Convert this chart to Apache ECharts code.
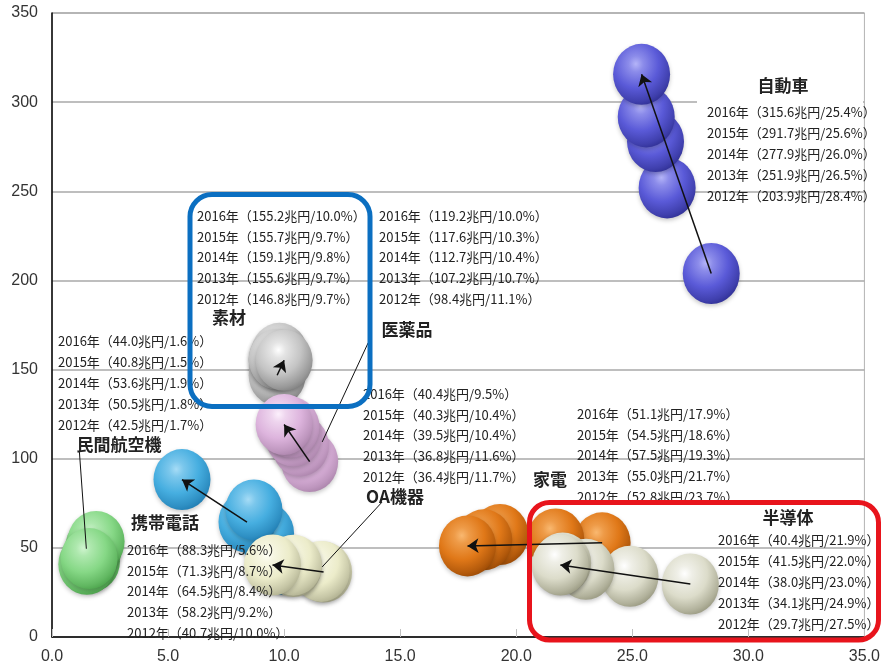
<!DOCTYPE html>
<html><head><meta charset="utf-8">
<script src="https://cdn.jsdelivr.net/npm/echarts@6/dist/echarts.min.js"></script>
<style>html,body{margin:0;padding:0;background:#fff}#c{width:883px;height:669px}</style>
</head><body><div id="c"></div>
<script>
// ---- data (x = share %, y = market size 兆円), years 2012..2016 ----
const years = [2012, 2013, 2014, 2015, 2016];
const industries = ['自動車', '素材', '医薬品', '携帯電話', '民間航空機', 'OA機器', '家電', '半導体'];
const share_auto   = [28.4, 26.5, 26.0, 25.6, 25.4];
const size_auto    = [203.9, 251.9, 277.9, 291.7, 315.6];
const share_mat    = [9.7, 9.7, 9.8, 9.7, 10.0];
const size_mat     = [146.8, 155.6, 159.1, 155.7, 155.2];
const share_pharma = [11.1, 10.7, 10.4, 10.3, 10.0];
const size_pharma  = [98.4, 107.2, 112.7, 117.6, 119.2];
const share_phone  = [10.0, 9.2, 8.4, 8.7, 5.6];
const size_phone   = [40.7, 58.2, 64.5, 71.3, 88.3];
const share_air    = [1.7, 1.8, 1.9, 1.5, 1.6];
const size_air     = [42.5, 50.5, 53.6, 40.8, 44.0];
const share_oa     = [11.7, 11.6, 10.4, 10.4, 9.5];
const size_oa      = [36.4, 36.8, 39.5, 40.3, 40.4];
const share_home   = [23.7, 21.7, 19.3, 18.6, 17.9];
const size_home    = [52.8, 55.0, 57.5, 54.5, 51.1];
const share_semi   = [27.5, 24.9, 23.0, 22.0, 21.9];
const size_semi    = [29.7, 34.1, 38.0, 41.5, 40.4];
const xTicks = [0, 5, 10, 15, 20, 25, 30, 35];
const yTicks = [0, 50, 100, 150, 200, 250, 300, 350];

const shares = [share_auto, share_mat, share_pharma, share_phone, share_air, share_oa, share_home, share_semi];
const sizes  = [size_auto, size_mat, size_pharma, size_phone, size_air, size_oa, size_home, size_semi];

// ---- styles / layout ----
const colors = [
  ['#B4B4F8', '#5A5AD8', '#2E2E92'],
  ['#FFFFFF', '#C4C4C4', '#7E7E7E'],
  ['#FCF0FC', '#DDB4DD', '#A982A9'],
  ['#A6DCF6', '#46AEE0', '#1E7AB0'],
  ['#CFF5CF', '#86D886', '#4AA24A'],
  ['#FFFFF6', '#ECECCA', '#ADAD8E'],
  ['#F9B870', '#E07818', '#984804'],
  ['#FFFFFF', '#DCDCCA', '#96967E']
];
const arrowTail = [0, 0, 0, 2, null, 0, 0, 0]; // year index where arrow starts (ends at 2016)
// text blocks: [left, top] in px; titles: [cx, cy]
const blockPos = [[707, 102], [197, 205.5], [379, 205.5], [127, 539.5], [58, 331], [363, 383.5], [577, 403.5], [718, 530]];
const titlePos = [[783, 86], [229, 318], [407, 330], [165, 523], [119, 445], [395, 497], [550, 480], [788, 518]];
// leader lines from title to bubbles, in axis units
const leaders = [
  [[1.18, 104], [1.48, 49.5]],
  [[13.62, 165], [11.64, 109.4]],
  [[14.22, 75.7], [11.64, 39.3]]
];

function mix(a, b, t) {
  const pa = parseInt(a.slice(1), 16), pb = parseInt(b.slice(1), 16);
  const r = Math.round(((pa >> 16) & 255) * (1 - t) + ((pb >> 16) & 255) * t);
  const g = Math.round(((pa >> 8) & 255) * (1 - t) + ((pb >> 8) & 255) * t);
  const bl = Math.round((pa & 255) * (1 - t) + (pb & 255) * t);
  return 'rgb(' + r + ',' + g + ',' + bl + ')';
}
function grad(c) {
  return new echarts.graphic.RadialGradient(0.4, 0.33, 0.72, [
    { offset: 0, color: c[0] },
    { offset: 0.18, color: mix(c[0], c[1], 0.45) },
    { offset: 0.55, color: c[1] },
    { offset: 0.85, color: mix(c[1], c[2], 0.6) },
    { offset: 1, color: c[2] }
  ]);
}

const series = [];
industries.forEach((name, i) => {
  series.push({
    type: 'scatter', name: name, z: 2,
    symbol: 'circle', symbolSize: [57, 61],
    itemStyle: { color: grad(colors[i]), shadowBlur: 4, shadowColor: 'rgba(0,0,0,0.22)', shadowOffsetY: 2, opacity: 1 },
    data: years.map((y, k) => [shares[i][k], sizes[i][k]])
  });
});
const arrowData = [];
industries.forEach((name, i) => {
  if (arrowTail[i] === null) return;
  const a = arrowTail[i], b = years.length - 1;
  arrowData.push({ coords: [[shares[i][a], sizes[i][a]], [shares[i][b], sizes[i][b]]] });
});
series.push({
  type: 'lines', coordinateSystem: 'cartesian2d', z: 5, silent: true,
  symbol: ['none', 'arrow'], symbolSize: 11,
  lineStyle: { color: '#111', width: 1.5, opacity: 1, curveness: 0 },
  data: arrowData
});
series.push({
  type: 'lines', coordinateSystem: 'cartesian2d', z: 5, silent: true,
  symbol: ['none', 'none'],
  lineStyle: { color: '#111', width: 1, opacity: 1 },
  data: leaders.map(l => ({ coords: l }))
});

const graphics = [];
graphics.push({ type: 'rect', z: 1, shape: { x: 697, y: 71, width: 166, height: 34 }, style: { fill: '#fff' } });
industries.forEach((name, i) => {
  const lines = [];
  for (let k = years.length - 1; k >= 0; k--) {
    lines.push(years[k] + '年（' + sizes[i][k].toFixed(1) + '兆円/' + shares[i][k].toFixed(1) + '%）');
  }
  graphics.push({
    type: 'text', left: blockPos[i][0], top: blockPos[i][1], z: 6,
    style: { text: lines.join('\n'), fontSize: 13, fontFamily: 'Noto Sans CJK JP', fill: '#222', lineHeight: 20.8 }
  });
  graphics.push({
    type: 'text', x: titlePos[i][0], y: titlePos[i][1], z: 6,
    style: { text: name, fontSize: 17, fontWeight: 'bold', fontFamily: 'Noto Sans CJK JP', fill: '#222',
      align: 'center', verticalAlign: 'middle', textAlign: 'center', textVerticalAlign: 'middle' }
  });
});
graphics.push({ type: 'rect', z: 20, shape: { x: 190, y: 194.5, width: 180, height: 212, r: 22 },
  style: { fill: 'none', stroke: '#0B6FC1', lineWidth: 5 } });
graphics.push({ type: 'rect', z: 20, shape: { x: 529.5, y: 502.5, width: 349, height: 137.5, r: 20 },
  style: { fill: 'none', stroke: '#E8141C', lineWidth: 5 } });

const chart = echarts.init(document.getElementById('c'), null, { renderer: 'canvas' });
chart.setOption({
  animation: false,
  backgroundColor: '#fff',
  grid: { left: 52, right: 18, top: 13, bottom: 32, show: true, borderColor: '#b4b4b4', borderWidth: 1 },
  xAxis: {
    type: 'value', min: xTicks[0], max: xTicks[xTicks.length - 1], interval: xTicks[1] - xTicks[0],
    axisLine: { show: true, onZero: false, lineStyle: { color: '#000', width: 1.5 } },
    axisTick: { show: true, inside: true, length: 8, lineStyle: { color: '#c0c0c0' } },
    splitLine: { show: false },
    axisLabel: { formatter: v => v.toFixed(1), fontSize: 16, color: '#333', margin: 12, fontFamily: 'Liberation Sans' }
  },
  yAxis: {
    type: 'value', min: yTicks[0], max: yTicks[yTicks.length - 1], interval: yTicks[1] - yTicks[0],
    axisLine: { show: true, onZero: false, lineStyle: { color: '#000', width: 1.5 } },
    axisTick: { show: false },
    splitLine: { show: true, lineStyle: { color: '#a8a8a8', width: 1.5 } },
    axisLabel: { fontSize: 16, color: '#333', margin: 14, fontFamily: 'Liberation Sans' }
  },
  series: series,
  graphic: graphics
});
</script>
</body></html>
